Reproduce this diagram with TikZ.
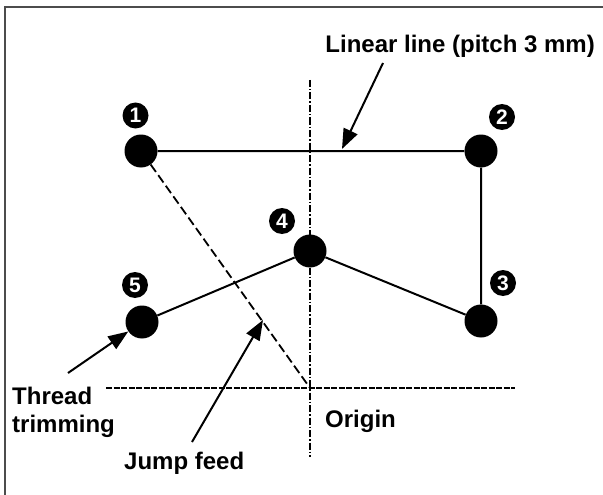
\documentclass[tikz,border=0pt]{standalone}
\usepackage{fontspec}
\setmainfont{Liberation Sans}
\usetikzlibrary{arrows.meta}
\tikzset{
  pt/.style={circle, fill=black, minimum size=33pt, inner sep=0pt},
  badge/.style={circle, fill=black, text=white, minimum size=26pt, inner sep=0pt,
    font=\bfseries\fontsize{21}{21}\selectfont},
  lbl/.style={inner sep=0pt, font=\bfseries\fontsize{24}{28}\selectfont},
  seg/.style={line width=2pt},
  jump/.style={line width=1.8pt, dash pattern=on 9pt off 4pt},
  haxis/.style={line width=1.8pt, dash pattern=on 6pt off 1.5pt},
  vaxis/.style={line width=1.5pt, dash pattern=on 7pt off 2pt on 1.5pt off 2pt},
  pointer/.style={line width=2pt, -{Triangle[length=20pt,width=15pt]}},
  frame/.style={line width=2pt, draw=black!70}
}
\begin{document}
\begin{tikzpicture}[x=1pt,y=-1pt]
\useasboundingbox (0,0) rectangle (603,495);
% frame (top and left visible)
\coordinate (fbl) at (4.7,495);
\coordinate (ftl) at (4.7,7.5);
\coordinate (ftr) at (603,7.5);
\draw[frame] (fbl) -- (ftl) -- (ftr);

% axes
\coordinate (vt) at (310,80);
\coordinate (vb) at (310,457);
\coordinate (hl) at (106,388);
\coordinate (hr) at (515,388);
\coordinate (origin) at (310,388);
\draw[vaxis] (vt) -- (vb);
\draw[haxis] (hl) -- (hr);

% points
\node[pt] (p1) at (141,151) {};
\node[pt] (p2) at (481,151) {};
\node[pt] (p3) at (481,321) {};
\node[pt] (p4) at (310,251) {};
\node[pt] (p5) at (142,322) {};

\node[badge] (b1) at (135.5,115.5) {1};
\node[badge] (b2) at (502,117) {2};
\node[badge] (b3) at (503,283) {3};
\node[badge] (b4) at (282,221) {4};
\node[badge] (b5) at (135,285) {5};

% stitching path
\draw[seg] (p1) -- (p2) -- (p3) -- (p4) -- (p5);
% jump feed
\draw[jump] (p1) -- (origin);

% labels
\node[lbl, anchor=base east] (linear) at (595,53) {Linear line (pitch 3 mm)};
\node[lbl, anchor=base west] (orig) at (325,427) {Origin};
\node[lbl, anchor=base west] (thread) at (12,404) {Thread};
\node[lbl, anchor=base west] (trim) at (12,432) {trimming};
\node[lbl, anchor=base west] (jf) at (124,469) {Jump feed};

% pointers
\coordinate (la) at (383,63);
\coordinate (lb) at (342,149);
\draw[pointer] (la) -- (lb);
\coordinate (ta) at (68,373);
\draw[pointer] (ta) -- (p5);
\coordinate (ja) at (192,442);
\coordinate (jb) at (263,320);
\draw[pointer] (ja) -- (jb);
\end{tikzpicture}
\end{document}
